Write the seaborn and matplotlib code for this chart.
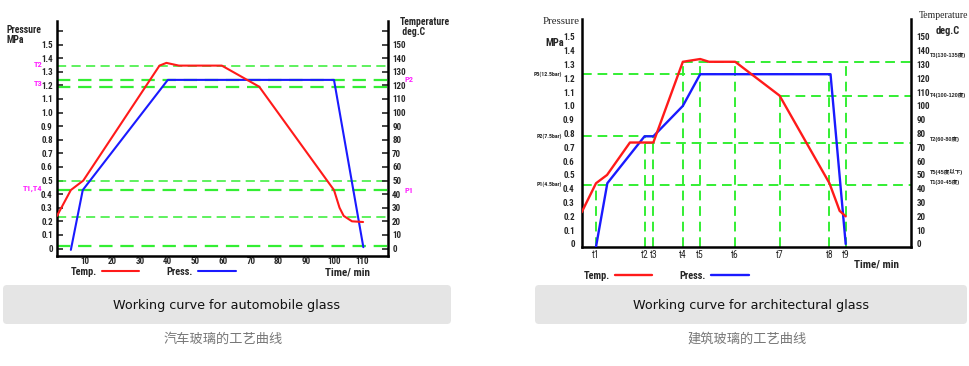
import seaborn as sns
import matplotlib.pyplot as plt
import matplotlib.transforms as mtransforms
from matplotlib.lines import Line2D
from matplotlib.patches import FancyBboxPatch

# --- automobile glass (left) ---
auto_temp_time = [0, 5, 9.5, 37, 39.5, 44, 59.5, 73, 97.5, 100, 102, 103.5, 106.5, 110.5]
auto_temp = [24, 43, 50, 134.5, 136.5, 134.5, 134.5, 119, 50, 43, 30, 24, 20, 19.5]
auto_press_time = [5, 9.3, 40, 100, 110.6]
auto_press = [-0.01, 0.43, 1.24, 1.24, 0.01]
auto_guides = [1.345, 1.24, 1.19, 0.50, 0.43, 0.23, 0.02]
auto_guide_bold = [False, True, True, False, True, False, True]
auto_xticks = [10, 20, 30, 40, 50, 60, 70, 80, 90, 100, 110]
auto_marks_left = ['T2', 'T3', 'T1,T4']
auto_marks_left_y = [1.35, 1.21, 0.44]
auto_marks_right = ['P2', 'P1']
auto_marks_right_y = [1.24, 0.43]

# --- architectural glass (right) ---
t_names = ['t1', 't2', 't3', 't4', 't5', 't6', 't7', 't8', 't9']
t_pos = [5.2, 22.8, 26.0, 36.7, 43.0, 55.7, 71.8, 89.9, 95.8]
t_top = [0.43, 0.78, 0.78, 1.32, 1.34, 1.32, 1.075, 1.23, 1.32]
arch_temp_time = [0, 5.2, 9.2, 17.5, 26.0, 36.7, 43.0, 46.2, 55.7, 71.8, 89.9, 92.6, 93.6, 95.8]
arch_temp = [23, 44, 50, 73.5, 73.5, 132, 134, 132, 132, 107.5, 44, 29.5, 24, 20]
arch_press_time = [5.2, 9.3, 22.8, 26.0, 36.7, 43.0, 90.3, 95.8]
arch_press = [-0.02, 0.44, 0.78, 0.78, 1.0, 1.23, 1.23, 0]
arch_guide_y = [1.23, 1.32, 1.075, 0.78, 0.735, 0.43]
arch_guide_x0 = [0, 36.7, 71.8, 0, 22.8, 0]
arch_guide_x1 = [90.3, 119.5, 119.5, 26.0, 119.5, 119.5]
arch_p_marks = ['P3(12.5bar)', 'P2(7.5bar)', 'P1(4.5bar)']
arch_p_marks_y = [1.23, 0.78, 0.43]
arch_t_marks = ['T3(130-135度)', 'T4(100-120度)', 'T2(60-80度)', 'T5(45度以下)', 'T1(30-45度)']
arch_t_marks_y = [137, 108, 76, 52, 45]

press_ticks = [0, 0.1, 0.2, 0.3, 0.4, 0.5, 0.6, 0.7, 0.8, 0.9, 1.0, 1.1, 1.2, 1.3, 1.4, 1.5]
press_labels = ['0', '0.1', '0.2', '0.3', '0.4', '0.5', '0.6', '0.7', '0.8', '0.9',
                '1.0', '1.1', '1.2', '1.3', '1.4', '1.5']
temp_ticks = [0, 10, 20, 30, 40, 50, 60, 70, 80, 90, 100, 110, 120, 130, 140, 150]

sns.set_style('white')
plt.rcParams['font.family'] = ['Liberation Sans Narrow', 'Roboto Condensed', 'Liberation Sans',
                               'DejaVu Sans', 'Noto Sans CJK SC']
plt.rcParams['font.weight'] = 'bold'

RED = '#ff1a1a'
BLUE = '#1a1aff'
GREEN = '#33ee33'
MAGENTA = '#ff22ff'
CJK = ['Liberation Sans', 'Noto Sans CJK SC', 'DejaVu Sans']

fig = plt.figure(figsize=(9.7, 3.66), dpi=100)
W, H = 970, 366


def fx(px):
    return px / W


def fy(py):
    return 1 - py / H


def make_axes(left, top, right, bottom, ylim):
    ax = fig.add_axes([fx(left), fy(bottom), fx(right - left), (bottom - top) / H])
    ax2 = ax.twinx()
    ax.set_xlim(0, 119.5)
    ax.set_ylim(*ylim)
    ax2.set_ylim(ylim[0] * 100, ylim[1] * 100)
    for a in (ax, ax2):
        a.patch.set_visible(False)
        for s in a.spines.values():
            s.set_visible(False)
            s.set_linewidth(1.8)
            s.set_color('black')
    ax.spines['left'].set_visible(True)
    ax.spines['bottom'].set_visible(True)
    ax2.spines['right'].set_visible(True)
    return ax, ax2


# ---------------- left chart ----------------
axa, axa2 = make_axes(57, 21, 388, 256, (-0.055, 1.673))
for y, bold in zip(auto_guides, auto_guide_bold):
    axa.axhline(y, color=GREEN, lw=1.6 if bold else 1.1, ls=(0, (6, 3.5)), zorder=1)
sns.lineplot(x=auto_press_time, y=auto_press, ax=axa, color=BLUE, lw=1.5,
             estimator=None, sort=False, zorder=3)
sns.lineplot(x=auto_temp_time, y=auto_temp, ax=axa2, color=RED, lw=1.5,
             estimator=None, sort=False, zorder=3)

axa.set_yticks(press_ticks + [1.6])
axa.set_yticklabels(press_labels + [''])
axa.set_xticks(auto_xticks)
axa.set_xticklabels([str(v) for v in auto_xticks])
axa2.set_yticks(temp_ticks + [160])
axa2.set_yticklabels([str(v) for v in temp_ticks] + [''])
axa.tick_params(axis='y', direction='in', length=4, width=1.2, labelsize=6.5, pad=3)
axa.tick_params(axis='x', direction='in', length=0, labelsize=6.5, pad=1)
axa2.tick_params(axis='y', direction='in', length=4, width=1.2, labelsize=6.5, pad=3)
axa.set_xlabel('')
axa.set_ylabel('')
axa2.set_ylabel('')

bl = mtransforms.blended_transform_factory(axa.transAxes, axa.transData)
for name, y in zip(auto_marks_left, auto_marks_left_y):
    axa.text(-0.045, y, name, transform=bl, ha='right', va='center',
             color=MAGENTA, fontsize=6)
for name, y in zip(auto_marks_right, auto_marks_right_y):
    axa.text(1.05, y, name, transform=bl, ha='left', va='center',
             color=MAGENTA, fontsize=6)

fig.text(fx(7), fy(35), 'Pressure\nMPa', ha='left', va='center', fontsize=7,
         linespacing=1.05)
fig.text(fx(400), fy(27), 'Temperature\n deg.C', ha='left', va='center', fontsize=7,
         linespacing=1.05)
fig.text(fx(348), fy(272), 'Time/ min', ha='center', va='center', fontsize=8)

handles = [Line2D([], [], color=RED, lw=1.5), Line2D([], [], color=BLUE, lw=1.5)]
axa.legend(handles, ['Temp.', 'Press.'], ncol=2, loc='center', bbox_to_anchor=(0.29, -0.068),
           frameon=False, markerfirst=False, fontsize=7.5, handlelength=3.6,
           handletextpad=0.5, columnspacing=2.6)

# ---------------- right chart ----------------
axb, axb2 = make_axes(581.7, 19, 911, 247, (-0.022, 1.63))
for x, top in zip(t_pos, t_top):
    axb.vlines(x, -0.022, top, color=GREEN, lw=1.4, ls=(0, (5, 3)), zorder=1)
for y, x0, x1 in zip(arch_guide_y, arch_guide_x0, arch_guide_x1):
    axb.hlines(y, x0, x1, color=GREEN, lw=1.4, ls=(0, (5, 3)), zorder=1)
sns.lineplot(x=arch_press_time, y=arch_press, ax=axb, color=BLUE, lw=1.7,
             estimator=None, sort=False, zorder=3)
sns.lineplot(x=arch_temp_time, y=arch_temp, ax=axb2, color=RED, lw=1.7,
             estimator=None, sort=False, zorder=3)

axb.set_yticks(press_ticks)
axb.set_yticklabels(press_labels)
axb.set_xticks(t_pos)
axb.set_xticklabels(t_names)
axb2.set_yticks(temp_ticks)
axb2.set_yticklabels([str(v) for v in temp_ticks])
axb.tick_params(axis='y', length=0, labelsize=6.5, pad=5)
axb.tick_params(axis='x', length=0, labelsize=7, pad=2)
for lbl in axb.get_xticklabels():
    lbl.set_fontweight('normal')
axb2.tick_params(axis='y', length=0, labelsize=6.5, pad=4)
axb.set_xlabel('')
axb.set_ylabel('')
axb2.set_ylabel('')

blb = mtransforms.blended_transform_factory(axb.transAxes, axb.transData)
for name, y in zip(arch_p_marks, arch_p_marks_y):
    axb.text(-0.06, y, name, transform=blb, ha='right', va='center', fontsize=4.2)
blb2 = mtransforms.blended_transform_factory(axb2.transAxes, axb2.transData)
for name, y in zip(arch_t_marks, arch_t_marks_y):
    axb2.text(1.057, y, name, transform=blb2, ha='left', va='center', fontsize=4.0,
              family=CJK)

fig.text(fx(543), fy(22), 'Pressure', ha='left', va='center', fontsize=7.8,
         family='Liberation Serif', weight='normal')
fig.text(fx(545), fy(43), 'MPa', ha='left', va='center', fontsize=7.5)
fig.text(fx(919), fy(16), 'Temperature', ha='left', va='center', fontsize=7,
         family='Liberation Serif', weight='normal')
fig.text(fx(936), fy(31), 'deg.C', ha='left', va='center', fontsize=7.5)
fig.text(fx(877), fy(265), 'Time/ min', ha='center', va='center', fontsize=8)

handles = [Line2D([], [], color=RED, lw=1.7), Line2D([], [], color=BLUE, lw=1.7)]
axb.legend(handles, ['Temp.', 'Press.'], ncol=2, loc='center', bbox_to_anchor=(0.256, -0.127),
           frameon=False, markerfirst=False, fontsize=7.5, handlelength=3.6,
           handletextpad=0.5, columnspacing=2.6)

# ---------------- captions ----------------
for x0, x1, title, sub in [(3, 451, 'Working curve for automobile glass', '汽车玻璃的工艺曲线'),
                            (535, 967, 'Working curve for architectural glass', '建筑玻璃的工艺曲线')]:
    fig.add_artist(FancyBboxPatch((x0, H - 324), x1 - x0, 39,
                                  boxstyle='round,pad=0,rounding_size=4',
                                  transform=mtransforms.IdentityTransform(),
                                  fc='#e5e5e5', ec='none'))
    cx = (x0 + x1) / 2
    fig.text(fx(cx), fy(306), title, ha='center', va='center', fontsize=9.2,
             family='DejaVu Sans', weight='normal', color='#111111')
    fig.text(fx(cx - 4), fy(339), sub, ha='center', va='center', fontsize=9.5,
             family=['Noto Sans CJK SC', 'DejaVu Sans'], weight='normal', color='#777777')

fig.savefig('out.png', dpi=100, facecolor='white')
